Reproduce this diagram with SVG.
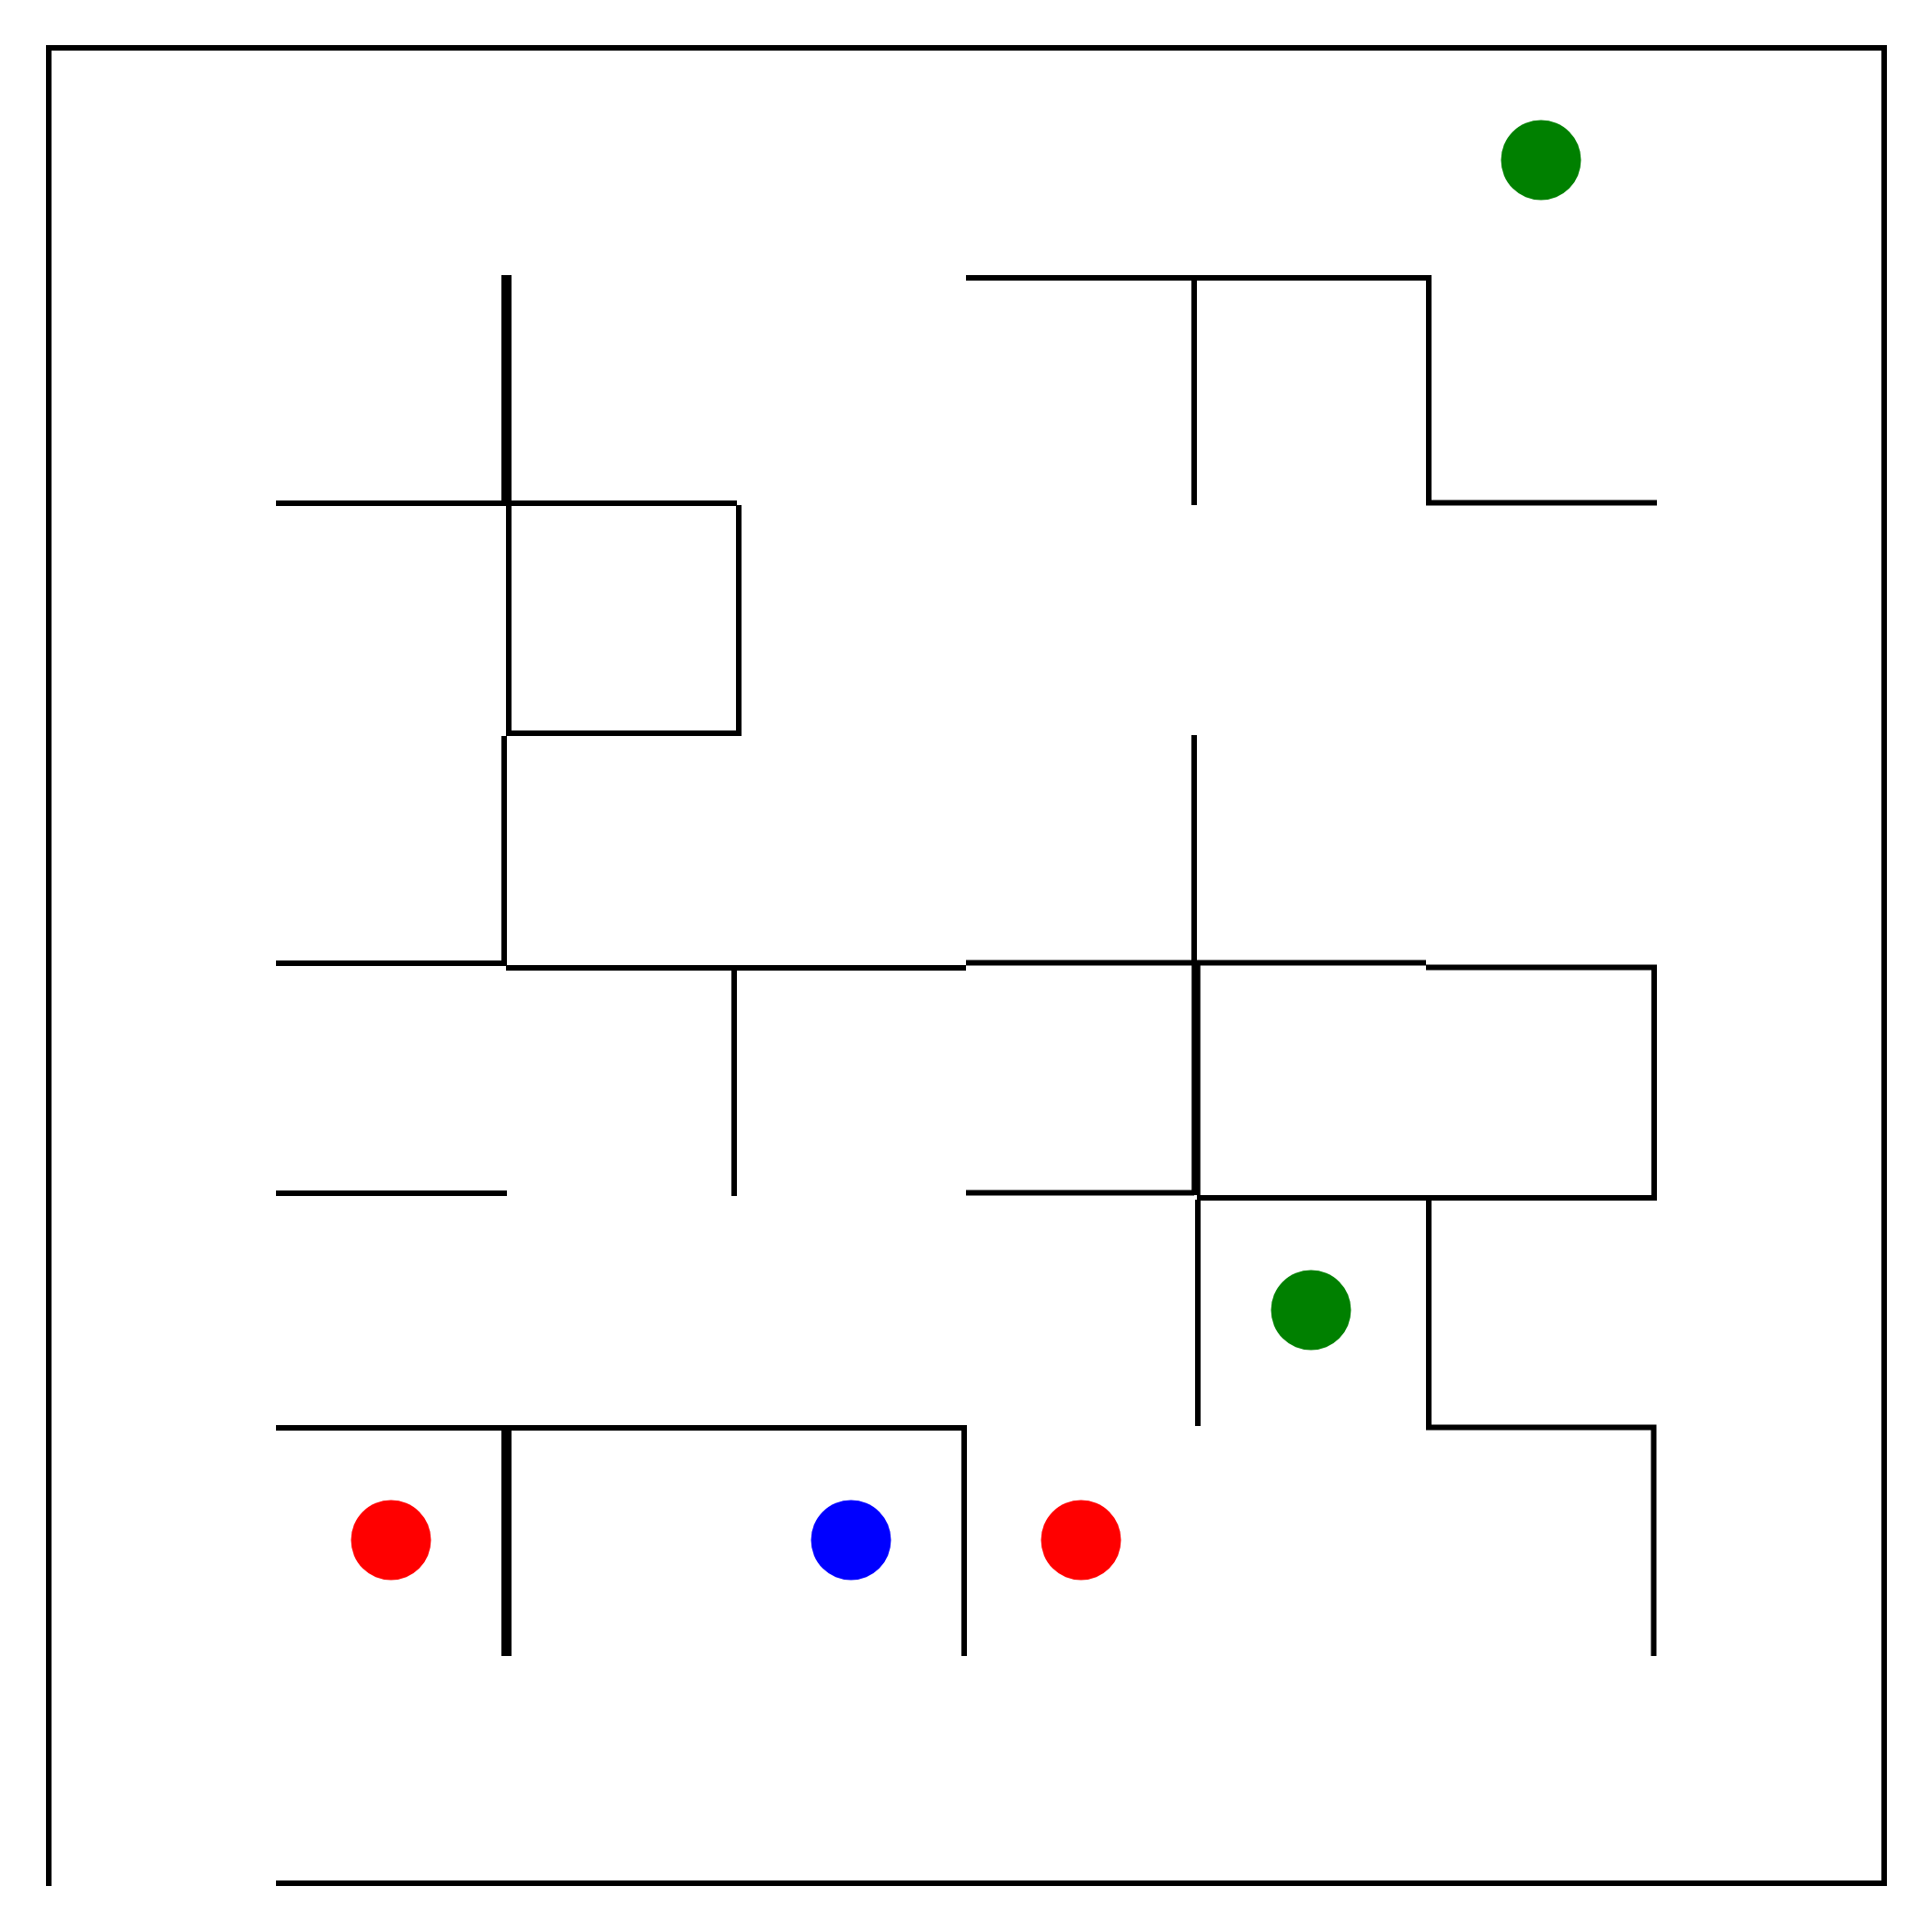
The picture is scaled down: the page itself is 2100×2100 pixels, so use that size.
<svg xmlns="http://www.w3.org/2000/svg" width="2100" height="2100" viewBox="0 0 2100 2100">
<style>
.w{fill:none;stroke:#000;stroke-width:6;stroke-linecap:butt;stroke-linejoin:miter}
.t{fill:none;stroke:#000;stroke-linecap:butt}
</style>
<rect width="2100" height="2100" fill="#fff"/>
<g id="border">
<path class="w" d="M53,2050 V52 H2048 V2047 H300"/>
</g>
<g id="walls">
<line class="t" x1="550.5" y1="299" x2="550.5" y2="550" stroke-width="11"/>
<path class="w" d="M300,547 H801"/>
<path class="w" d="M553,550 V797 H803 V549"/>
<path class="w" d="M548,800 V1047 H300"/>
<path class="w" d="M550,1052 H1050"/>
<path class="w" d="M798,1055 V1300"/>
<path class="w" d="M300,1297 H551"/>
<path class="w" d="M1050,302 H1553 V546.5 H1801"/>
<path class="w" d="M1298,304 V549"/>
<path class="w" d="M1298,799 V1044"/>
<path class="w" d="M1050,1046.5 H1550"/>
<path class="w" d="M1550,1051.5 H1798 V1302 H1301"/>
<line class="t" x1="1300" y1="1049" x2="1300" y2="1299" stroke-width="9.5"/>
<path class="w" d="M1050,1296.5 H1298"/>
<path class="w" d="M1302,1304 V1550"/>
<path class="w" d="M1553,1304 V1551.5 H1797.5 V1800"/>
<path class="w" d="M300,1552 H1048 V1800"/>
<line class="t" x1="550.5" y1="1555" x2="550.5" y2="1800" stroke-width="11"/>
</g>
<g id="markers">
<circle id="goal1" cx="1675" cy="174" r="43.5" fill="#008000"/>
<circle id="goal2" cx="1425" cy="1424" r="43.5" fill="#008000"/>
<circle id="enemy1" cx="425" cy="1674" r="43.5" fill="#ff0000"/>
<circle id="player" cx="925" cy="1674" r="43.5" fill="#0000ff"/>
<circle id="enemy2" cx="1175" cy="1674" r="43.5" fill="#ff0000"/>
</g>
</svg>
